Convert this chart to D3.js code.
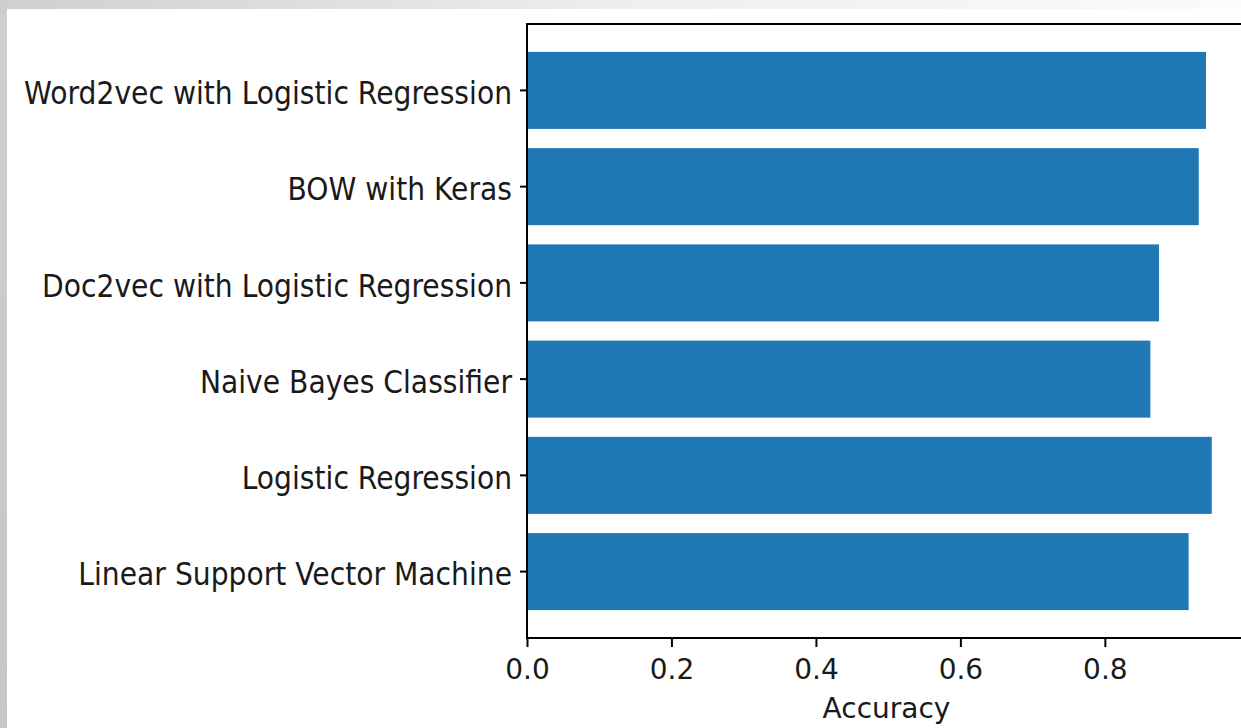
<!DOCTYPE html>
<html>
<head>
<meta charset="utf-8">
<script src="https://cdn.jsdelivr.net/npm/d3@7"></script>
<style>
  html, body { margin: 0; padding: 0; background: #ffffff; }
  svg { display: block; }
  text { font-family: "DejaVu Sans", sans-serif; fill: #1a1a1a; }
</style>
</head>
<body>
<svg id="chart" width="1241" height="728"></svg>
<script>
// Data (bottom to top, as in the original matplotlib barh)
const categories = [
  "Linear Support Vector Machine",
  "Logistic Regression",
  "Naive Bayes Classifier",
  "Doc2vec with Logistic Regression",
  "BOW with Keras",
  "Word2vec with Logistic Regression"
];
const accuracy = [0.916, 0.948, 0.863, 0.875, 0.930, 0.940];
const xTickValues = [0.0, 0.2, 0.4, 0.6, 0.8];
const xAxisTitle = "Accuracy";

(function () {
const svg = d3.select("#chart");
const W = 1241, H = 728;

// decorative screenshot frame (grey gradient strips)
const defs = svg.append("defs");
const gTop = defs.append("linearGradient").attr("id", "gTop").attr("x1", "0").attr("x2", "1").attr("y1", "0").attr("y2", "0");
gTop.append("stop").attr("offset", "0").attr("stop-color", "#cfcfcf");
gTop.append("stop").attr("offset", "0.5").attr("stop-color", "#eeeeee");
gTop.append("stop").attr("offset", "1").attr("stop-color", "#fbfbfb");
const gLeft = defs.append("linearGradient").attr("id", "gLeft").attr("x1", "0").attr("x2", "0").attr("y1", "0").attr("y2", "1");
gLeft.append("stop").attr("offset", "0").attr("stop-color", "#cfcfcf");
gLeft.append("stop").attr("offset", "1").attr("stop-color", "#c6c6c6");
svg.append("rect").attr("x", 0).attr("y", 0).attr("width", W).attr("height", 9).attr("fill", "url(#gTop)");
svg.append("rect").attr("x", 0).attr("y", 0).attr("width", 7).attr("height", H).attr("fill", "url(#gLeft)");

// plot area
const pLeft = 527, pRight = 1246, pTop = 24, pBottom = 638;

const xMax = d3.max(accuracy) * 1.05;
const x = d3.scaleLinear().domain([0, xMax]).range([pLeft, pRight]);

const yOrder = categories.slice().reverse(); // top to bottom
const y = d3.scaleBand().domain(yOrder).range([pTop, pBottom]).paddingInner(0.2).paddingOuter(0.29);

const data = categories.map((c, i) => ({ c, v: accuracy[i] }));

svg.append("g").selectAll("rect.bar").data(data).join("rect")
  .attr("class", "bar")
  .attr("x", x(0))
  .attr("y", d => y(d.c))
  .attr("width", d => x(d.v) - x(0))
  .attr("height", y.bandwidth())
  .attr("fill", "#1f77b4");

// axes
const fontSize = 28;
const xAxis = d3.axisBottom(x).tickValues(xTickValues).tickFormat(d3.format(".1f")).tickSize(9).tickPadding(12);
const gx = svg.append("g").attr("transform", `translate(0,${pBottom})`).call(xAxis);
gx.select(".domain").remove();
gx.selectAll(".tick line").attr("stroke", "#000").attr("stroke-width", 2);
gx.selectAll(".tick text").attr("font-size", fontSize).attr("font-family", "DejaVu Sans").attr("fill", "#1a1a1a").attr("dy", "0.71em");

const yAxis = d3.axisLeft(y).tickSize(7).tickPadding(8);
const gy = svg.append("g").attr("transform", `translate(${pLeft},0)`).call(yAxis);
gy.select(".domain").remove();
gy.selectAll(".tick line").attr("stroke", "#000").attr("stroke-width", 2);
gy.selectAll(".tick text")
  .attr("font-size", 28.2).attr("font-family", "DejaVu Sans").attr("fill", "#1a1a1a")
  .attr("y", 0).attr("dy", 12.4)
  .attr("transform", "scale(1,1.1)");

// spines
const spine = svg.append("g").attr("stroke", "#000").attr("stroke-width", 2).attr("fill", "none");
spine.append("line").attr("x1", pLeft).attr("x2", pLeft).attr("y1", pTop).attr("y2", pBottom);
spine.append("line").attr("x1", pLeft - 1).attr("x2", pRight + 1).attr("y1", pBottom).attr("y2", pBottom);
spine.append("line").attr("x1", pLeft - 1).attr("x2", pRight + 1).attr("y1", pTop).attr("y2", pTop);
spine.append("line").attr("x1", pRight).attr("x2", pRight).attr("y1", pTop).attr("y2", pBottom);

// x-axis title
svg.append("text")
  .attr("x", (pLeft + pRight) / 2)
  .attr("y", 718)
  .attr("text-anchor", "middle")
  .attr("font-size", fontSize)
  .text(xAxisTitle);
})();
</script>
</body>
</html>
